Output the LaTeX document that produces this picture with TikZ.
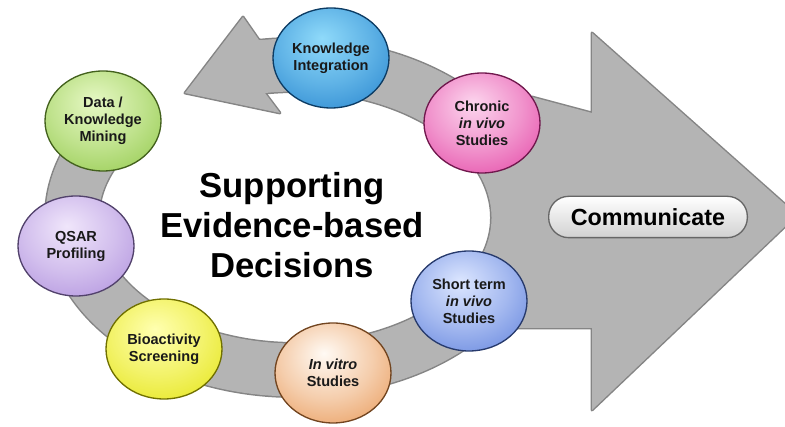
\documentclass[tikz,border=0pt]{standalone}
\usepackage{fontspec}
\setmainfont{Liberation Sans}
\usepackage{xcolor}
\definecolor{bandgray}{HTML}{B4B4B4}
\definecolor{edgegray}{HTML}{858585}
\colorlet{ballin}{white}
\colorlet{ballout}{gray}
\usepackage{tikz}
\usetikzlibrary{
  positioning,
  shapes.geometric
}
\pgfdeclareradialshading[ballin,ballout]{glossy}{\pgfpoint{-4bp}{10bp}}{%
  color(0bp)=(ballin); color(20bp)=(ballin!60!ballout); color(45bp)=(ballout); color(70bp)=(ballout!75!black)}
\tikzset{
  bubblein/.code={\definecolor{ballin}{HTML}{#1}},
  bubbleout/.code={\definecolor{ballout}{HTML}{#1}},
  bubble/.style={ellipse, minimum width=87pt, minimum height=75pt, inner sep=0pt,
    shade, shading=glossy, draw=ballout!50!black, line width=1pt, align=center, text=black!90,
    font=\fontsize{10.9pt}{12.75pt}\selectfont\bfseries},
}

\begin{document}
\begin{tikzpicture}[
  x=0.75pt, y=0.75pt,
  bandedge/.style={edgegray, line width=42pt},
  bandfill/.style={bandgray, line width=39.75pt},
  shapeedge/.style={draw=edgegray, line width=2.2pt, line join=round},
  commbox/.style={rectangle, rounded corners=15pt, draw=black!60, line width=1pt,
    top color=white, bottom color=black!18, minimum width=149pt, minimum height=31pt,
    font=\fontsize{17.5pt}{20pt}\selectfont\bfseries},
  maintext/.style={align=center, font=\fontsize{26pt}{30pt}\selectfont\bfseries},
]
\clip (0,0) rectangle (785,427);

% Ring centre
\coordinate (ringc) at (295,209.5);

% Outlines
\draw[bandedge] (ringc) ++(98.5:223 and 152.5)
  arc[start angle=98.5, end angle=-210, x radius=223, y radius=152.5];
\draw[shapeedge] (185,334) -- (243,410) -- (259,387) -- (275,383) -- (277,340) -- (265,334) -- (280,314) -- cycle;
\draw[shapeedge] (592,394) -- (797,212) -- (592,17) -- (592,99) -- (528,99) .. controls (495,99) .. (464.8,110.7)
  arc[start angle=-40.4, end angle=46, x radius=223, y radius=152.5] -- (532,330) -- (592,314) -- cycle;

% Fills
\draw[bandfill] (ringc) ++(98.5:223 and 152.5)
  arc[start angle=98.5, end angle=-210, x radius=223, y radius=152.5];
\fill[bandgray] (185,334) -- (243,410) -- (259,387) -- (275,383) -- (277,340) -- (265,334) -- (280,314) -- cycle;
\fill[bandgray] (592,394) -- (797,212) -- (592,17) -- (592,99) -- (528,99) .. controls (495,99) .. (464.8,110.7)
  arc[start angle=-40.4, end angle=46, x radius=223, y radius=152.5] -- (532,330) -- (592,314) -- cycle;

% Steps
\node[bubblein=8FDAFA, bubbleout=1878C8, bubble] (ki) at (331,369) {Knowledge\\Integration};
\node[bubblein=FCD6EE, bubbleout=E0309A, bubble] (chronic) at (482,304) {Chronic\\\textit{in vivo}\\Studies};
\node[bubblein=E6F8C4, bubbleout=86C23A, bubble] (data) at (103,306) {Data /\\Knowledge\\Mining};
\node[bubblein=F0E6FB, bubbleout=A583D8, bubble] (qsar) at (76,181) {QSAR\\Profiling};
\node[bubblein=FFFFB0, bubbleout=E0E000, bubble] (bio) at (164,78) {Bioactivity\\Screening};
\node[bubblein=FFFAF4, bubbleout=E58A40, bubble] (vitro) at (333,54) {\textit{In vitro}\\Studies};
\node[bubblein=DCE6FF, bubbleout=4F74D8, bubble] (shortterm) at (469,126) {Short term\\\textit{in vivo}\\Studies};

% Centre and outcome
\node[maintext] (title) at (292,202) {Supporting\\Evidence-based\\Decisions};
\node[commbox] (comm) at (648,210) {Communicate};

\end{tikzpicture}
\end{document}
